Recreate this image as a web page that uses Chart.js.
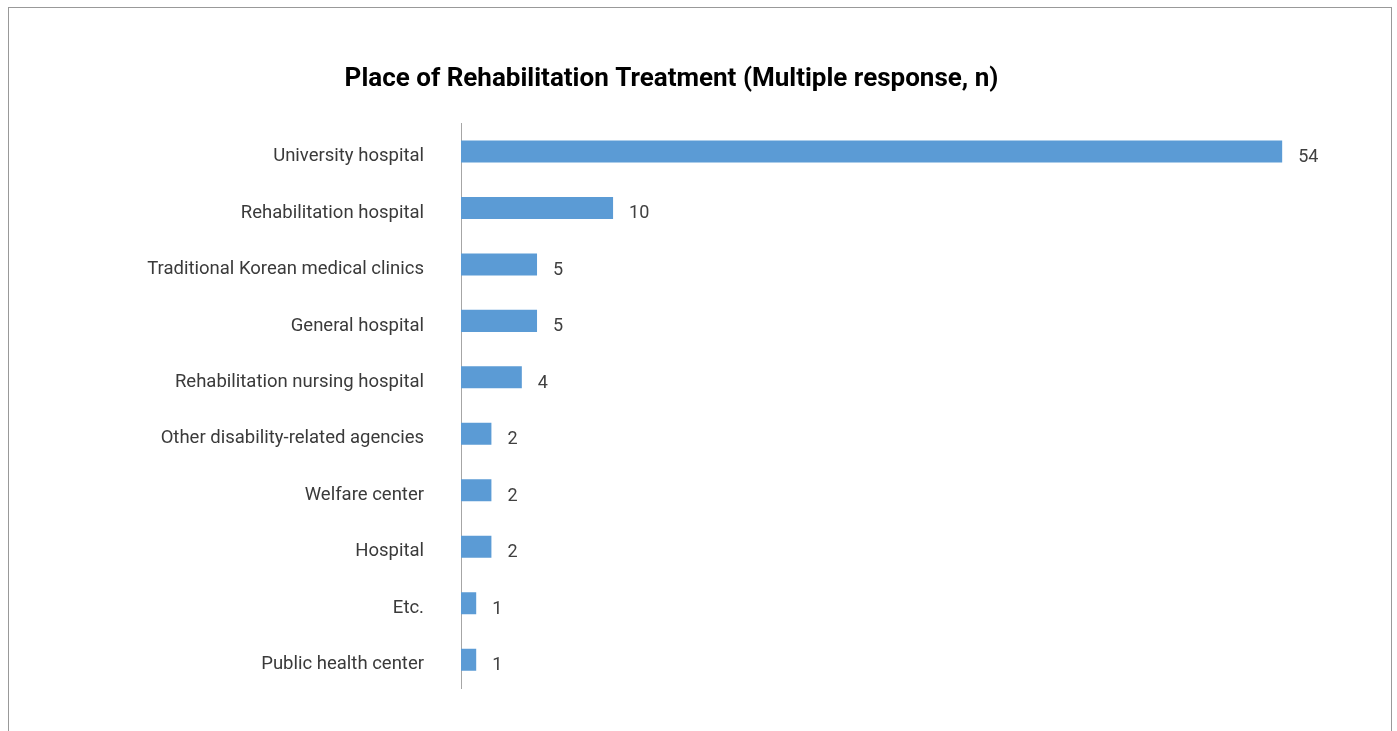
<!DOCTYPE html>
<html>
<head>
<meta charset="utf-8">
<script src="https://cdn.jsdelivr.net/npm/chart.js@4.4.1/dist/chart.umd.min.js"></script>
<style>
  html, body { margin: 0; padding: 0; background: #fff; }
  body { width: 1397px; height: 731px; position: relative; overflow: hidden; }
  #frame {
    position: absolute; left: 8px; top: 7px;
    width: 1382px; height: 800px;
    border: 1px solid #999;
  }
  #wrap { position: absolute; left: 0; top: 0; width: 1343px; height: 731px; }
</style>
</head>
<body>
<div id="frame"></div>
<div id="wrap"><canvas id="placeChart"></canvas></div>
<script>
const places = [
  'University hospital',
  'Rehabilitation hospital',
  'Traditional Korean medical clinics',
  'General hospital',
  'Rehabilitation nursing hospital',
  'Other disability-related agencies',
  'Welfare center',
  'Hospital',
  'Etc.',
  'Public health center'
];
const counts = [54, 10, 5, 5, 4, 2, 2, 2, 1, 1];

const FONT = 'Roboto, "Noto Sans", sans-serif';

// writes the count just past the end of each bar
const valueLabels = {
  id: 'valueLabels',
  afterDatasetsDraw(chart) {
    const ctx = chart.ctx;
    const meta = chart.getDatasetMeta(0);
    ctx.save();
    ctx.font = '18px ' + FONT;
    ctx.fillStyle = '#404040';
    ctx.textAlign = 'left';
    ctx.textBaseline = 'middle';
    meta.data.forEach((bar, i) => {
      ctx.fillText(String(counts[i]), bar.x + 16, bar.y + 6);
    });
    ctx.restore();
  }
};

new Chart(document.getElementById('placeChart'), {
  type: 'bar',
  data: {
    labels: places,
    datasets: [{
      data: counts,
      backgroundColor: '#5b9bd5',
      borderWidth: 0,
      categoryPercentage: 1,
      barPercentage: 0.39
    }]
  },
  options: {
    indexAxis: 'y',
    responsive: true,
    maintainAspectRatio: false,
    animation: false,
    layout: { padding: { top: 0, bottom: 43, left: 0, right: 0 } },
    plugins: {
      legend: { display: false },
      tooltip: { enabled: false },
      title: {
        display: true,
        text: 'Place of Rehabilitation Treatment (Multiple response, n)',
        color: '#000',
        font: { family: FONT, size: 26, weight: 'bold', lineHeight: 1.2 },
        padding: { top: 64, bottom: 28 }
      }
    },
    scales: {
      x: {
        display: false,
        min: 0,
        max: 58
      },
      y: {
        afterFit(scale) { scale.width = 461; },
        // gap between labels and axis comes from the (hidden) tick length
        grid: { display: false, drawTicks: true, tickLength: 34 },
        border: { display: true, color: '#a6a6a6', width: 1 },
        ticks: {
          padding: 3,
          labelOffset: 5,
          color: '#3a3a3a',
          font: { family: FONT, size: 18.5 }
        }
      }
    }
  },
  plugins: [valueLabels]
});
</script>
</body>
</html>
